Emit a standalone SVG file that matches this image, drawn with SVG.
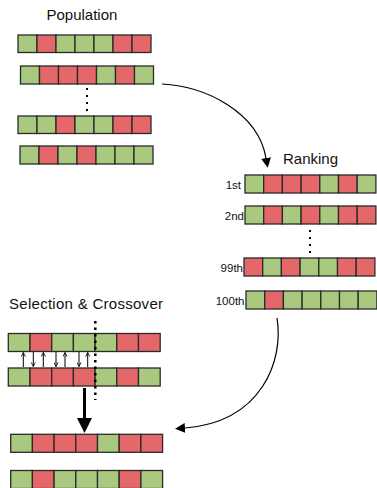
<svg xmlns="http://www.w3.org/2000/svg" width="377" height="488" viewBox="0 0 377 488">
  <style>
    .g { fill: #a9c97f; stroke: #2a2a2a; stroke-width: 1.3; }
    .r { fill: #e4686a; stroke: #2a2a2a; stroke-width: 1.3; }
    .title { font-family: "Liberation Sans", Arial, sans-serif; font-size: 15px; fill: #111; }
    .lbl { font-family: "Liberation Sans", Arial, sans-serif; font-size: 11.5px; fill: #111; text-anchor: end; }
    .dot { fill: #000; }
    .wire { fill: none; stroke: #000; stroke-width: 1.2; }
    .thin { fill: none; stroke: #000; stroke-width: 1; }
  </style>
  <defs>
    <marker id="head" viewBox="0 0 10 10" refX="0" refY="5" markerWidth="10" markerHeight="10" markerUnits="userSpaceOnUse" orient="auto">
      <path d="M0,0 L10,5 L0,10 z" fill="#000"/>
    </marker>
    <marker id="tick" viewBox="0 0 6 6" refX="5.5" refY="3" markerWidth="5" markerHeight="5" markerUnits="userSpaceOnUse" orient="auto">
      <path d="M0.5,0.5 L5.5,3 L0.5,5.5" fill="none" stroke="#000" stroke-width="1"/>
    </marker>
  </defs>

  <!-- titles -->
  <text class="title" x="46.5" y="19.5">Population</text>
  <text class="title" x="283" y="163.5">Ranking</text>
  <text class="title" x="9" y="308.5" textLength="154">Selection &amp; Crossover</text>

  <!-- population -->
  <g id="pop-1" transform="translate(18,35)">
    <rect class="g" x="0" y="0" width="19" height="17.5"/><rect class="r" x="19" y="0" width="19" height="17.5"/><rect class="g" x="38" y="0" width="19" height="17.5"/><rect class="g" x="57" y="0" width="19" height="17.5"/><rect class="g" x="76" y="0" width="19" height="17.5"/><rect class="r" x="95" y="0" width="19" height="17.5"/><rect class="r" x="114" y="0" width="19" height="17.5"/>
  </g>
  <g id="pop-2" transform="translate(20.5,66)">
    <rect class="g" x="0" y="0" width="19" height="18"/><rect class="r" x="19" y="0" width="19" height="18"/><rect class="r" x="38" y="0" width="19" height="18"/><rect class="r" x="57" y="0" width="19" height="18"/><rect class="g" x="76" y="0" width="19" height="18"/><rect class="r" x="95" y="0" width="19" height="18"/><rect class="g" x="114" y="0" width="19" height="18"/>
  </g>
  <g id="pop-dots">
    <rect class="dot" x="86" y="88" width="2" height="2"/><rect class="dot" x="86" y="95" width="2" height="2"/><rect class="dot" x="86" y="102" width="2" height="2"/><rect class="dot" x="86" y="109" width="2" height="2"/>
  </g>
  <g id="pop-3" transform="translate(18,116)">
    <rect class="g" x="0" y="0" width="19" height="17.5"/><rect class="g" x="19" y="0" width="19" height="17.5"/><rect class="r" x="38" y="0" width="19" height="17.5"/><rect class="g" x="57" y="0" width="19" height="17.5"/><rect class="g" x="76" y="0" width="19" height="17.5"/><rect class="r" x="95" y="0" width="19" height="17.5"/><rect class="r" x="114" y="0" width="19" height="17.5"/>
  </g>
  <g id="pop-4" transform="translate(20,146)">
    <rect class="g" x="0" y="0" width="19" height="18"/><rect class="r" x="19" y="0" width="19" height="18"/><rect class="g" x="38" y="0" width="19" height="18"/><rect class="r" x="57" y="0" width="19" height="18"/><rect class="g" x="76" y="0" width="19" height="18"/><rect class="g" x="95" y="0" width="19" height="18"/><rect class="g" x="114" y="0" width="19" height="18"/>
  </g>

  <!-- ranking -->
  <g id="rank-1st">
    <text class="lbl" x="241" y="189">1st</text>
    <g transform="translate(245,175)">
      <rect class="g" x="0" y="0" width="18.7" height="18"/><rect class="r" x="18.7" y="0" width="18.7" height="18"/><rect class="r" x="37.4" y="0" width="18.7" height="18"/><rect class="r" x="56.1" y="0" width="18.7" height="18"/><rect class="g" x="74.8" y="0" width="18.7" height="18"/><rect class="r" x="93.5" y="0" width="18.7" height="18"/><rect class="g" x="112.2" y="0" width="18.7" height="18"/>
    </g>
  </g>
  <g id="rank-2nd">
    <text class="lbl" x="244" y="219.5">2nd</text>
    <g transform="translate(245,206)">
      <rect class="g" x="0" y="0" width="18.7" height="18"/><rect class="r" x="18.7" y="0" width="18.7" height="18"/><rect class="g" x="37.4" y="0" width="18.7" height="18"/><rect class="r" x="56.1" y="0" width="18.7" height="18"/><rect class="g" x="74.8" y="0" width="18.7" height="18"/><rect class="r" x="93.5" y="0" width="18.7" height="18"/><rect class="r" x="112.2" y="0" width="18.7" height="18"/>
    </g>
  </g>
  <g id="rank-dots">
    <rect class="dot" x="309" y="230" width="2" height="2"/><rect class="dot" x="309" y="237" width="2" height="2"/><rect class="dot" x="309" y="244" width="2" height="2"/><rect class="dot" x="309" y="251" width="2" height="2"/>
  </g>
  <g id="rank-99th">
    <text class="lbl" x="243" y="271.5">99th</text>
    <g transform="translate(244,258)">
      <rect class="r" x="0" y="0" width="18.7" height="18"/><rect class="g" x="18.7" y="0" width="18.7" height="18"/><rect class="r" x="37.4" y="0" width="18.7" height="18"/><rect class="g" x="56.1" y="0" width="18.7" height="18"/><rect class="g" x="74.8" y="0" width="18.7" height="18"/><rect class="r" x="93.5" y="0" width="18.7" height="18"/><rect class="r" x="112.2" y="0" width="18.7" height="18"/>
    </g>
  </g>
  <g id="rank-100th">
    <text class="lbl" x="244.5" y="304.5">100th</text>
    <g transform="translate(246,291)">
      <rect class="g" x="0" y="0" width="18.7" height="18"/><rect class="r" x="18.7" y="0" width="18.7" height="18"/><rect class="g" x="37.4" y="0" width="18.7" height="18"/><rect class="g" x="56.1" y="0" width="18.7" height="18"/><rect class="g" x="74.8" y="0" width="18.7" height="18"/><rect class="g" x="93.5" y="0" width="18.7" height="18"/><rect class="g" x="112.2" y="0" width="18.7" height="18"/>
    </g>
  </g>

  <!-- selection & crossover -->
  <g id="parent-1" transform="translate(8.3,333.5)">
    <rect class="g" x="0" y="0" width="21.7" height="18"/><rect class="r" x="21.7" y="0" width="21.7" height="18"/><rect class="g" x="43.4" y="0" width="21.7" height="18"/><rect class="g" x="65.1" y="0" width="21.7" height="18"/><rect class="g" x="86.8" y="0" width="21.7" height="18"/><rect class="r" x="108.5" y="0" width="21.7" height="18"/><rect class="r" x="130.2" y="0" width="21.7" height="18"/>
  </g>
  <g id="parent-2" transform="translate(8.3,368)">
    <rect class="g" x="0" y="0" width="21.7" height="18"/><rect class="r" x="21.7" y="0" width="21.7" height="18"/><rect class="r" x="43.4" y="0" width="21.7" height="18"/><rect class="r" x="65.1" y="0" width="21.7" height="18"/><rect class="g" x="86.8" y="0" width="21.7" height="18"/><rect class="r" x="108.5" y="0" width="21.7" height="18"/><rect class="g" x="130.2" y="0" width="21.7" height="18"/>
  </g>
  <g id="child-1" transform="translate(10.7,434.3)">
    <rect class="g" x="0" y="0" width="21.7" height="18"/><rect class="r" x="21.7" y="0" width="21.7" height="18"/><rect class="r" x="43.4" y="0" width="21.7" height="18"/><rect class="r" x="65.1" y="0" width="21.7" height="18"/><rect class="g" x="86.8" y="0" width="21.7" height="18"/><rect class="r" x="108.5" y="0" width="21.7" height="18"/><rect class="r" x="130.2" y="0" width="21.7" height="18"/>
  </g>
  <g id="child-2" transform="translate(10.7,470.5)">
    <rect class="g" x="0" y="0" width="21.7" height="18"/><rect class="r" x="21.7" y="0" width="21.7" height="18"/><rect class="g" x="43.4" y="0" width="21.7" height="18"/><rect class="g" x="65.1" y="0" width="21.7" height="18"/><rect class="g" x="86.8" y="0" width="21.7" height="18"/><rect class="r" x="108.5" y="0" width="21.7" height="18"/><rect class="g" x="130.2" y="0" width="21.7" height="18"/>
  </g>

  <!-- connectors -->
  <g id="connectors">
    <path class="wire" d="M162,84 C205,86 258,112 266,158" marker-end="url(#head)"/>
    <path class="wire" d="M277,318 C284,360 262,422 185,428" marker-end="url(#head)"/>
    <!-- crossover point -->
    <line x1="95.3" y1="321" x2="95.3" y2="400" stroke="#000" stroke-width="2.5" stroke-dasharray="2.5,4"/>
    <!-- gene swaps -->
    <line class="thin" x1="23.3" y1="367" x2="23.3" y2="352.5" marker-end="url(#tick)"/>
    <line class="thin" x1="33.3" y1="352" x2="33.3" y2="366.5" marker-end="url(#tick)"/>
    <line class="thin" x1="43.3" y1="367" x2="43.3" y2="352.5" marker-end="url(#tick)"/>
    <line class="thin" x1="56" y1="352" x2="56" y2="366.5" marker-end="url(#tick)"/>
    <line class="thin" x1="65" y1="367" x2="65" y2="352.5" marker-end="url(#tick)"/>
    <line class="thin" x1="79" y1="352" x2="79" y2="366.5" marker-end="url(#tick)"/>
    <line class="thin" x1="87.7" y1="367" x2="87.7" y2="352.5" marker-end="url(#tick)"/>
    <!-- offspring arrow -->
    <line x1="84.5" y1="388" x2="84.5" y2="419" stroke="#000" stroke-width="3"/>
    <path d="M77,418 L92,418 L84.5,433 z" fill="#000"/>
  </g>
</svg>
